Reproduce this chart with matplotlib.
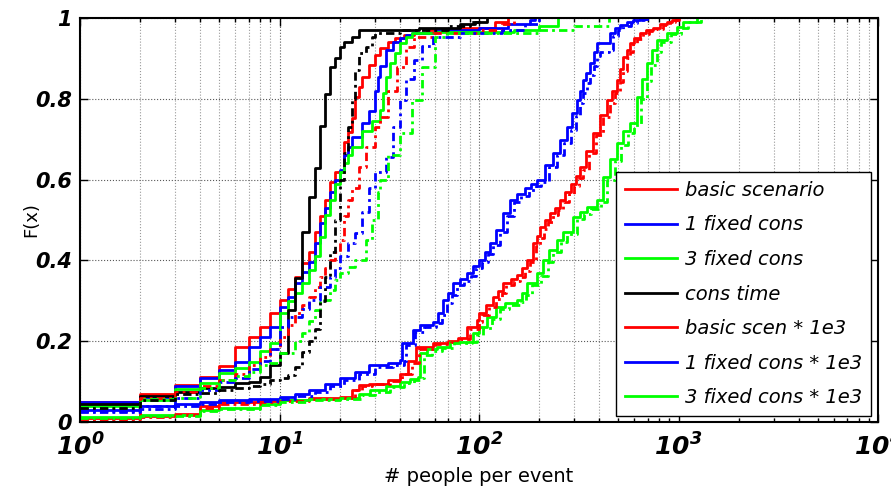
import matplotlib
matplotlib.use('Agg')
import matplotlib.pyplot as plt

# ECDF of # people per event (x = people, F = cumulative fraction)

#%% left group, solid
basic_x = [1,2,3,4,5,6,7,8,9,10,11,12,13,14,15,16,17,18,19,21,22,23,24,25,26,28,30,32,35,38,42,47,55,80,120,140]
basic_F = [0.05,0.069,0.092,0.112,0.139,0.186,0.21,0.236,0.271,0.302,0.328,0.36,0.393,0.422,0.471,0.51,0.55,0.595,0.62,
           0.694,0.719,0.752,0.805,0.83,0.855,0.884,0.908,0.925,0.941,0.95,0.958,0.963,0.97,0.975,0.99,1.0]

fix1_x = [1,2,3,4,5,6,7,8,9,10,11,12,13,14,15,16,17,18,19,20,21,22,23,26,28,30,31,32,34,37,40,43,46,60,100,140,180,190]
fix1_F = [0.05,0.063,0.089,0.108,0.129,0.149,0.186,0.211,0.236,0.285,0.31,0.343,0.372,0.397,0.442,0.492,0.529,0.57,0.6,
          0.624,0.661,0.681,0.706,0.74,0.77,0.82,0.855,0.88,0.92,0.941,0.95,0.958,0.962,0.97,0.975,0.985,0.995,1.0]

fix3_x = [1,2,3,4,5,6,7,8,9,10,11,12,13,14,15,16,17,18,19,20,21,22,23,26,29,32,33,34,36,38,40,43,46,60,150,200,250]
fix3_F = [0.04,0.054,0.081,0.096,0.122,0.133,0.149,0.176,0.195,0.27,0.30,0.319,0.343,0.376,0.41,0.459,0.512,0.55,0.59,
          0.62,0.64,0.66,0.68,0.72,0.745,0.772,0.814,0.855,0.889,0.913,0.938,0.954,0.962,0.965,0.97,0.98,1.0]

time_x = [1,2,3,4,5,6,7,8,9,10,11,12,13,14,15,16,17,18,19,20,21,23,25,50,80,95,110]
time_F = [0.044,0.065,0.075,0.084,0.087,0.096,0.10,0.112,0.141,0.17,0.277,0.356,0.471,0.558,0.628,0.733,0.812,0.879,0.902,
          0.929,0.941,0.954,0.97,0.975,0.985,0.99,1.0]

#%% left group, dash-dot
basic2_x = [1,2,3,4,5,6,7,8,9,10,11,12,13,14,15,16,17,18,19,20,21,22,23,25,27,30,32,35,39,43,47,59,100,130,150]
basic2_F = [0.008,0.06,0.075,0.09,0.105,0.12,0.14,0.16,0.18,0.21,0.24,0.27,0.29,0.31,0.335,0.36,0.38,0.40,0.42,0.45,
            0.51,0.55,0.58,0.632,0.68,0.73,0.756,0.82,0.879,0.929,0.954,0.962,0.97,0.985,1.0]

fix1b_x = [1,2,3,4,5,6,7,8,9,10,11,13,14,16,18,19,20,22,24,26,28,30,34,37,40,43,47,52,59,80,130,170,200]
fix1b_F = [0.028,0.04,0.06,0.08,0.1,0.11,0.13,0.15,0.18,0.236,0.26,0.28,0.302,0.335,0.36,0.38,0.41,0.443,0.467,0.52,
           0.58,0.62,0.657,0.73,0.797,0.85,0.896,0.93,0.954,0.962,0.97,0.985,1.0]

fix3b_x = [1,2,3,4,5,6,7,8,9,10,12,13,14,15,16,18,19,20,22,24,27,29,31,32,35,40,46,52,60,69,200,300,450]
fix3b_F = [0.038,0.057,0.059,0.085,0.104,0.115,0.125,0.14,0.146,0.17,0.2,0.22,0.25,0.277,0.302,0.327,0.351,0.368,0.384,
           0.401,0.45,0.5,0.57,0.6,0.66,0.715,0.797,0.879,0.954,0.962,0.97,0.98,1.0]

time2_x = [1,2,3,4,5,6,7,8,9,10,11,12,13,14,15,16,17,18,19,20,21,22,23,24,25,27,29,30,40,70,90,100]
time2_F = [0.035,0.055,0.07,0.072,0.08,0.085,0.09,0.095,0.104,0.11,0.116,0.137,0.174,0.2,0.23,0.30,0.36,0.42,0.5,0.6,
           0.666,0.731,0.8,0.871,0.913,0.929,0.954,0.962,0.97,0.98,0.99,1.0]

#%% right group (* 1e3), solid
sc3_x = [1,2,3,4,5,8,10,14,20,23,25,28,35,40,44,48.6,58.6,70,78.5,87,97.6,100,108,117,125,132,145,155,165,175,
         186,195,203,215,226,240,254,270,290,305,321,345,373,405,438,465,492,510,530,550,570,600,640,690,745,810,876,930,983]
sc3_F = [0.01,0.015,0.02,0.04,0.05,0.052,0.055,0.06,0.063,0.08,0.092,0.095,0.105,0.12,0.15,0.186,0.195,0.2,0.207,0.236,
         0.252,0.27,0.29,0.31,0.325,0.343,0.355,0.364,0.38,0.4,0.442,0.46,0.483,0.5,0.517,0.53,0.55,0.57,0.59,0.61,
         0.631,0.67,0.715,0.76,0.797,0.82,0.847,0.875,0.904,0.92,0.938,0.95,0.963,0.97,0.975,0.985,0.99,0.995,1.0]

fix1e3_x = [1,2,3,4,5,7,10,12,14,17,20,24,28,35,40,41,46.6,50.6,58.6,62,66,70,74,80,87,93,100,107,113,122,
            132,143,155,170,182,195,215,235,255,276,292,309,320,332,345,360,375,390,438,454,480,509,550,591,640,695]
fix1e3_F = [0.03,0.04,0.045,0.05,0.055,0.058,0.062,0.07,0.08,0.095,0.108,0.125,0.14,0.146,0.153,0.195,0.228,0.24,0.248,0.27,
            0.302,0.32,0.343,0.355,0.368,0.385,0.401,0.42,0.442,0.475,0.517,0.55,0.565,0.58,0.59,0.6,0.635,0.666,0.698,0.73,
            0.765,0.797,0.82,0.847,0.865,0.889,0.915,0.938,0.938,0.963,0.975,0.983,0.99,0.995,0.998,1.0]

fix3e3_x = [1,2,4,5,8,10,14,20,25,28.4,34,40,45,49.5,50.6,55,61.5,71.5,88,93,100,110,122,135,155,165,175,195,210,225,
            245,264,296,320,347,390,418,455,492,530,571,620,660,695,740,780,876,983,1055,1240]
fix3e3_F = [0.013,0.018,0.03,0.035,0.045,0.055,0.058,0.06,0.07,0.079,0.09,0.1,0.106,0.112,0.17,0.18,0.186,0.199,0.199,0.22,
            0.236,0.26,0.285,0.295,0.302,0.32,0.343,0.368,0.4,0.425,0.45,0.471,0.508,0.52,0.533,0.55,0.606,0.65,0.69,0.72,
            0.74,0.805,0.85,0.889,0.92,0.946,0.963,0.978,0.99,1.0]

#%% right group (* 1e3), dash-dot
sc3b_x = [1,2,3,4,5,8,10,14,20,24,26,29,36,41,46,50,60,72,81,90,100,104,112,121,130,137,150,160,171,181,
          193,202,211,223,235,250,264,281,301,317,334,358,388,420,455,483,510,530,550,572,592,622,665,715,775,840,905,960,1010]
sc3b_F = [0.008,0.012,0.018,0.035,0.045,0.05,0.052,0.057,0.06,0.078,0.09,0.093,0.102,0.118,0.145,0.18,0.192,0.198,0.205,0.23,
          0.248,0.265,0.285,0.305,0.32,0.338,0.35,0.36,0.375,0.395,0.435,0.455,0.478,0.495,0.512,0.525,0.545,0.565,0.585,0.605,
          0.625,0.665,0.71,0.755,0.79,0.815,0.842,0.87,0.9,0.915,0.935,0.948,0.96,0.968,0.974,0.983,0.99,0.995,1.0]

fix1e3b_x = [1,2,3,4,5,7,10,12,15,18,21,25,30,37,42,43,48,53,61,65,69,73,78,84,91,97,104,111,118,127,
             138,149,162,178,192,205,225,246,266,288,305,322,334,346,360,376,392,405,450,470,500,530,575,620,670,730]
fix1e3b_F = [0.024,0.032,0.04,0.045,0.05,0.053,0.058,0.065,0.075,0.09,0.103,0.12,0.135,0.142,0.15,0.19,0.222,0.235,0.245,0.265,
             0.295,0.315,0.338,0.35,0.362,0.38,0.395,0.415,0.437,0.47,0.51,0.545,0.56,0.575,0.585,0.595,0.63,0.66,0.69,0.722,
             0.758,0.79,0.815,0.84,0.86,0.882,0.905,0.915,0.92,0.955,0.97,0.98,0.988,0.994,0.998,1.0]

fix3e3b_x = [1,2,4,5,8,10,14,20,26,30,36,42,47,52,53,58,65,75,92,98,105,116,128,142,162,173,184,205,221,236,
             257,277,310,336,364,410,440,478,517,556,600,650,693,730,777,820,920,1030,1110,1300]
fix3e3b_F = [0.01,0.015,0.027,0.032,0.042,0.05,0.055,0.058,0.067,0.075,0.087,0.097,0.103,0.109,0.165,0.175,0.182,0.195,0.197,0.215,
             0.232,0.255,0.28,0.29,0.298,0.315,0.338,0.362,0.395,0.42,0.445,0.466,0.503,0.515,0.528,0.545,0.6,0.645,0.685,0.715,
             0.735,0.8,0.845,0.883,0.915,0.94,0.96,0.975,0.99,1.0]

labels = ['basic scenario', '1 fixed cons', '3 fixed cons', 'cons time',
          'basic scen * 1e3', '1 fixed cons * 1e3', '3 fixed cons * 1e3']
xticklabels = [r'$10^{0}$', r'$10^{1}$', r'$10^{2}$', r'$10^{3}$', r'$10^{4}$']
yticklabels = ['0', '0.2', '0.4', '0.6', '0.8', '1']

red, blue, green, black = '#ff0000', '#0000ff', '#00ff00', '#000000'

solid = [(basic_x, basic_F, red), (fix1_x, fix1_F, blue), (fix3_x, fix3_F, green), (time_x, time_F, black),
         (sc3_x, sc3_F, red), (fix1e3_x, fix1e3_F, blue), (fix3e3_x, fix3e3_F, green)]
dashdot = [(basic2_x, basic2_F, red), (fix1b_x, fix1b_F, blue), (fix3b_x, fix3b_F, green), (time2_x, time2_F, black),
           (sc3b_x, sc3b_F, red), (fix1e3b_x, fix1e3b_F, blue), (fix3e3b_x, fix3e3b_F, green)]

plt.rcParams['mathtext.fontset'] = 'custom'
plt.rcParams['mathtext.rm'] = 'DejaVu Sans:italic:bold'
plt.rcParams['mathtext.it'] = 'DejaVu Sans:italic:bold'
plt.rcParams['mathtext.default'] = 'rm'

fig = plt.figure(figsize=(8.91, 4.88), dpi=100)
ax = fig.add_axes([80/891., 1-422/488., 798/891., 404/488.])

for (x, F, c), lab in zip(solid, labels):
    ax.plot(x, F, color=c, lw=2, drawstyle='steps-post', label=lab)
for x, F, c in dashdot:
    l, = ax.plot(x, F, color=c, lw=2, drawstyle='steps-post')
    l.set_dashes([3, 1.5, 1, 1.5])

ax.set_xscale('log')
ax.set_xlim(1, 1e4)
ax.set_ylim(0, 1)
ax.set_xticks([1, 10, 100, 1000, 10000])
ax.set_xticklabels(xticklabels, fontsize=18)
ax.set_yticks([0, 0.2, 0.4, 0.6, 0.8, 1])
ax.set_yticklabels(yticklabels, fontsize=15, style='italic', weight='bold')

ax.tick_params(which='both', direction='in', top=True, right=True, width=1)
ax.tick_params(which='major', length=6)
ax.tick_params(axis='x', which='major', pad=8)
ax.tick_params(axis='y', which='major', pad=6)
ax.tick_params(which='minor', length=3)
ax.grid(True, which='major', color='0.35', ls=':', lw=0.8)
ax.grid(True, which='minor', axis='x', color='0.6', ls=':', lw=0.8)
for s in ax.spines.values():
    s.set_linewidth(1.5)

ax.set_xlabel('# people per event', fontsize=14, labelpad=5)
ax.set_ylabel('F(x)', fontsize=13)
ax.yaxis.set_label_coords(-0.05, 0.5)

leg = ax.legend(loc='lower right', bbox_to_anchor=(0.991, 0.015), borderaxespad=0,
                prop={'size': 14, 'style': 'italic'}, handlelength=2.7, handletextpad=0.4,
                labelspacing=0.8, borderpad=0.45, fancybox=False, framealpha=1, edgecolor='black')
leg.get_frame().set_linewidth(1)

plt.savefig('out.png', dpi=100)
